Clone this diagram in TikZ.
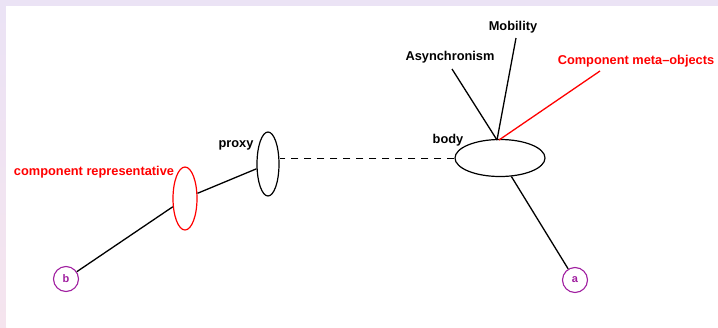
\documentclass[tikz,border=0pt]{standalone}
\usepackage{fontspec}
\setmainfont{Liberation Sans}
\usetikzlibrary{shapes.geometric,calc}
\definecolor{lav}{RGB}{235,227,245}
\definecolor{pinkish}{RGB}{245,228,238}
\definecolor{purp}{RGB}{160,30,160}
\begin{document}
\begin{tikzpicture}[x=1pt,y=-1pt,
  lbl/.style={inner sep=0pt,font=\fontsize{12.8}{14}\selectfont\bfseries},
  redlbl/.style={lbl,text=red},
  oval/.style={draw,ellipse,line width=1.2pt,inner sep=0pt},
  endpt/.style={draw=purp,text=purp,circle,line width=1.1pt,minimum size=25pt,inner sep=0pt,font=\fontsize{11}{12}\selectfont\bfseries},
  conn/.style={line width=1.3pt},
  dashconn/.style={line width=0.8pt,dash pattern=on 7pt off 6pt}]
\useasboundingbox (0,0) rectangle (718,327);
\fill[lav] (0,0) rectangle (718,6);
\shade[top color=lav,bottom color=pinkish] (0,6) rectangle (6,327);
\fill[white] (6,6) rectangle (718,327);

\node[oval,draw=red,minimum width=24pt,minimum height=63pt] (rep) at (185,198.5) {};
\node[oval,minimum width=22pt,minimum height=64pt] (proxy) at (268,164) {};
\node[oval,minimum width=90pt,minimum height=37pt] (body) at (500,158) {};
\node[endpt] (b) at (66,279) {b};
\node[endpt] (a) at (575,280) {a};

\node[lbl] (mob) at (513,27) {Mobility};
\node[lbl] (asy) at (450,57.5) {Asynchronism};
\node[redlbl] (cmo) at (636,61) {Component meta{\char"2013}objects};
\node[redlbl] (crep) at (94,172) {component representative};
\node[lbl] (proxylbl) at (236,145) {proxy};
\node[lbl] (bodylbl) at (448,140.5) {body};

\coordinate (top) at (497,140);
\coordinate (mobend) at (516,38);
\coordinate (asyend) at (452,69);
\coordinate (cmoend) at (600,71);

\draw[conn] (asyend) -- (top);
\draw[conn] (mobend) -- (top);
\draw[conn,red] (cmoend) -- ([xshift=2pt]top);
\draw[conn] (b) -- (rep);
\draw[conn] (rep) -- (proxy);
\draw[dashconn] (body.west) -- (body.west -| proxy.east);
\draw[conn] (body) -- (a);
\end{tikzpicture}
\end{document}
